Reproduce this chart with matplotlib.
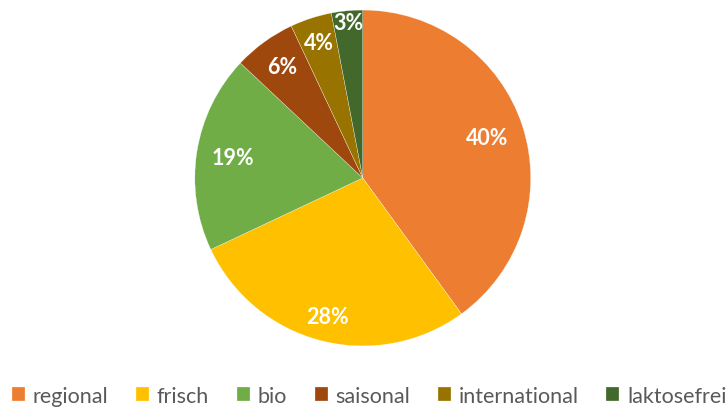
import matplotlib
matplotlib.use('Agg')
from matplotlib import pyplot as plt

labels = ['regional', 'frisch', 'bio', 'saisonal', 'international', 'laktosefrei']
values = [40, 28, 19, 6, 4, 3]
colors = ['#ED7D31', '#FFC000', '#70AD47', '#9E480E', '#997300', '#43682B']

plt.rcParams['font.family'] = ['Lato', 'DejaVu Sans']

fig = plt.figure(figsize=(7.27, 4.1), dpi=100)
ax = fig.add_axes([0.268, 0.1537, 0.462, 0.8195])

wedges, texts, autotexts = ax.pie(
    values, colors=colors, startangle=90, counterclock=False, radius=1,
    autopct=lambda p: '%d%%' % round(p), pctdistance=0.8,
    wedgeprops=dict(edgecolor='white', linewidth=0.2),
    textprops=dict(color='white', fontsize=15.5, fontweight='bold'))

# nudge small slice labels outward like the original
for t, d in zip(autotexts, [0.78, 0.85, 0.78, 0.82, 0.85, 0.93]):
    x, y = t.get_position()
    r = (x ** 2 + y ** 2) ** 0.5
    t.set_position((x * d / r, y * d / r))

ax.set_xlim(-1, 1)
ax.set_ylim(-1, 1)
ax.set_aspect('equal')

fig.legend(wedges, labels, loc='center', bbox_to_anchor=(0.508, 0.032), ncol=6,
           frameon=False, fontsize=15.5, handlelength=0.6, handleheight=0.6,
           handletextpad=0.35, columnspacing=1.3, labelcolor='#595959',
           borderaxespad=0, borderpad=0)

fig.savefig('out.png', dpi=100)
